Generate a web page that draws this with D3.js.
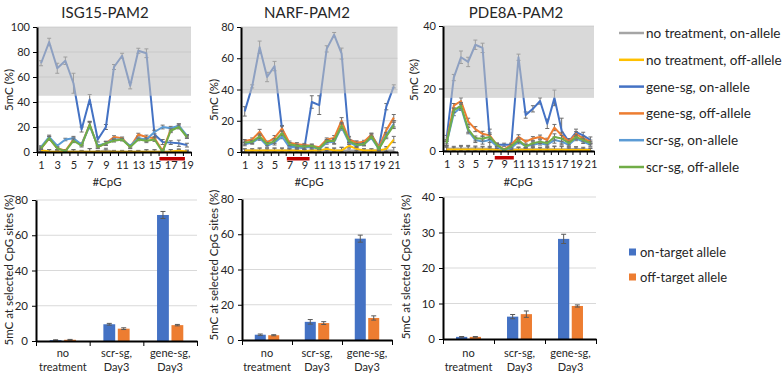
<!DOCTYPE html>
<html>
<head>
<meta charset="utf-8">
<script src="https://cdn.jsdelivr.net/npm/d3@7"></script>
<style>
body { margin: 0; background: #fff; }
text { font-family: Lato, "Open Sans", sans-serif; fill: #262626; }
</style>
</head>
<body>
<script>
// series shown in the CpG line charts
const seriesNames = ["no treatment, on-allele", "no treatment, off-allele", "gene-sg, on-allele",
    "gene-sg, off-allele", "scr-sg, on-allele", "scr-sg, off-allele"];
const seriesColors = ["#a5a5a5", "#ffc000", "#4472c4", "#ed7d31", "#5b9bd5", "#70ad47"];

// ISG15-PAM2, 19 CpGs
const isgNoOn = [0.5, 0.3, 0.3, 0.3, 0.5, 0.3, 0.3, 0.3, 1.5, 0.3, 0.3, 0.3, 0.3, 0.3, 0.3, 0.3, 0.3, 0.5, 0.3];
const isgNoOff = [1.5, 0.5, 0.3, 0.2, 0.2, 0.2, 0.2, 0.2, 0.2, 0.2, 0.2, 0.2, 0.2, 0.2, 0.2, 0.2, 0.5, 1, 0.5];
const isgGeneOn = [71, 88, 67, 73, 55, 18, 42, 10, 20, 68, 77, 53, 81, 79, 14, 8, 7.5, 7, 5.5];
const isgGeneOff = [3, 11, 3, 1, 10, 6, 22, 4, 7, 12, 11, 4, 14, 12, 11, 1, 18, 21, 12];
const isgScrOn = [4, 12, 5, 10, 11, 6, 21, 5, 7, 10, 10, 5, 11, 10, 16, 20, 19, 21, 13];
const isgScrOff = [3, 11, 3, 0.5, 9, 5, 22, 4, 7, 9, 10, 4, 10, 9, 10, 0, 17, 20, 12];
const isgErrOn = [2, 3, 4, 3, 8, 2, 4, 2, 2, 2, 2, 2.5, 2, 3.5, 3, 2, 1.5, 2.5, 1.5];
const isgErrOther = [1, 1.5, 1, 1, 1.5, 1, 2.5, 1, 1.5, 1, 1, 1, 1, 1.5, 1.5, 1.5, 1.5, 1.5, 1];

// NARF-PAM2, 21 CpGs
const narfNoOn = [1, 1, 1, 1, 1, 1, 1, 1, 0.5, 1, 1, 1, 1, 1, 1, 1, 1, 1, 1, 1, 1];
const narfNoOff = [1, 1, 1, 1, 1, 1, 1, 1, 0.5, 1, 1, 2, 1, 1, 4, 2, 1, 1, 1, 2, 8];
const narfGeneOn = [26, 42, 67, 48, 55, 15, 4, 3, 2.5, 32, 30, 66, 75, 63, 8, 6, 5.5, 11, 3, 29, 42];
const narfGeneOff = [7, 8, 13, 6, 9, 15, 6, 5, 4.5, 4, 3, 8, 9, 20, 8, 6, 6.5, 11, 3, 14, 22];
const narfScrOn = [5, 6, 9, 4, 6, 10, 3, 3, 3, 3, 2, 6, 6.5, 16, 6, 4, 5, 9, 2, 11, 18];
const narfScrOff = [6, 6.5, 10, 5, 7, 12, 5, 4, 3.5, 4, 2, 7, 7, 17, 7, 4.5, 5, 10, 2, 10, 17];
const narfErrOn = [3, 1, 4, 3, 3, 2, 1, 1, 1, 4, 6, 2, 1.5, 3.5, 2, 1, 1, 1, 1, 2, 1];
const narfErrOther = [1, 1, 1.5, 1, 1.5, 1.5, 1, 1, 1, 1, 0.5, 1, 1.5, 2, 1, 1, 1, 1, 1, 1.5, 2];

// PDE8A-PAM2, 21 CpGs
const pdeNoOn = [0.7, 0.8, 0.8, 0.8, 0.8, 0.7, 0.7, 0.5, 0.3, 0.5, 0.6, 0.6, 0.6, 0.6, 0.6, 0.6, 0.6, 0.6, 0.7, 0.6, 0.5];
const pdeNoOff = [0.5, 0.5, 0.5, 0.5, 0.5, 0.5, 0.5, 0.3, 0.2, 0.3, 0.4, 0.4, 0.4, 0.4, 0.4, 0.4, 0.4, 0.3, 0.3, 0.3, 0.3];
const pdeGeneOn = [4, 23.5, 30, 28.5, 34, 33, 4, 2, 2, 2, 30, 11.5, 13.5, 16, 8.7, 17, 6.5, 3, 6, 5, 3.5];
const pdeGeneOff = [3, 14.5, 16, 9.5, 7, 5.5, 5, 2, 0.5, 2, 4.5, 3, 4, 4.5, 3.5, 7.5, 5, 3, 5.5, 4, 3];
const pdeScrOn = [2.5, 12, 14, 6.5, 3.5, 3, 3.5, 1.5, 0.3, 1, 3, 1.5, 2, 2.5, 2, 3.5, 3, 2, 4, 3, 2];
const pdeScrOff = [2.5, 13, 14.5, 7, 4, 4, 4.5, 2, 0.3, 1.5, 3.5, 1.5, 2.5, 3, 2.5, 4.5, 4, 2.5, 4.5, 3.5, 2.5];
const pdeErrOn = [1, 1, 2, 1.5, 1.5, 1.5, 3, 0.5, 0.5, 0.5, 1, 1, 1, 1, 1.5, 2.5, 4, 1, 1, 1, 1];
const pdeErrOther = [0.7, 0.7, 1, 1, 0.8, 0.8, 0.8, 0.5, 0.3, 0.5, 0.7, 0.5, 0.6, 0.6, 0.6, 1, 1, 0.6, 0.7, 0.6, 0.5];

// bar charts: mean 5mC at selected CpG sites
const groups = [["no", "treatment"], ["scr-sg,", "Day3"], ["gene-sg,", "Day3"]];
const alleleNames = ["on-target allele", "off-target allele"];
const alleleColors = ["#4472c4", "#ed7d31"];
const isgBarOn = [0.5, 9.5, 71.5];
const isgBarOff = [0.7, 7.0, 9.0];
const isgBarOnErr = [0.2, 0.5, 2];
const isgBarOffErr = [0.2, 0.5, 0.4];
const narfBarOn = [3.0, 10.3, 57.5];
const narfBarOff = [2.7, 9.6, 12.5];
const narfBarOnErr = [0.4, 1.3, 2];
const narfBarOffErr = [0.3, 0.8, 1.2];
const pdeBarOn = [0.6, 6.3, 28.2];
const pdeBarOff = [0.6, 7.0, 9.3];
const pdeBarOnErr = [0.1, 0.6, 1.3];
const pdeBarOffErr = [0.1, 0.9, 0.3];

const svg = d3.select('body').append('svg')
    .attr('width', 784)
    .attr('height', 374);

function styleAxis(g) {
    g.select('.domain').attr('stroke', '#000').attr('stroke-width', 2);
    g.selectAll('.tick line').attr('stroke', '#000');
    g.selectAll('.tick text').attr('font-family', 'Lato, sans-serif').attr('fill', '#262626');
}

function linePanel(p) {
    const n = p.series[0].length;
    const cats = d3.range(1, n + 1);
    const x = d3.scaleBand().domain(cats).range([p.x0, p.x1]);
    const xl = d3.scaleLinear().domain([0.5, n + 0.5]).range([p.x0, p.x1]);
    const y = d3.scaleLinear().domain([0, p.max]).range([p.y0, p.y1]);
    const g = svg.append('g');

    g.selectAll('.grid').data(p.ticks.slice(1)).enter().append('line')
        .attr('x1', p.x0).attr('x2', p.x1)
        .attr('y1', d => y(d)).attr('y2', d => y(d))
        .attr('stroke', '#d9d9d9').attr('stroke-width', 1);

    const cx = i => x(cats[i]) + x.bandwidth() / 2;
    const line = d3.line().x((d, i) => cx(i)).y(d => y(d));

    p.series.forEach(function (s, k) {
        const err = k == 2 ? p.errOn : p.errOther;
        g.append('g').selectAll('path').data(s).enter().append('path')
            .attr('d', function (d, i) {
                const a = y(d + err[i]), b = y(Math.max(0, d - err[i])), c = cx(i);
                return 'M' + (c - 2) + ',' + a + 'H' + (c + 2) + 'M' + c + ',' + a + 'V' + b +
                    'M' + (c - 2) + ',' + b + 'H' + (c + 2);
            })
            .attr('stroke', '#6e6e6e').attr('stroke-width', 1).attr('fill', 'none');
        g.append('path').datum(s)
            .attr('d', line)
            .attr('fill', 'none')
            .attr('stroke', seriesColors[k])
            .attr('stroke-width', 2)
            .attr('stroke-linejoin', 'round');
    });

    // shaded band above the threshold
    g.append('rect')
        .attr('x', p.x0).attr('width', p.x1 - p.x0)
        .attr('y', y(p.max)).attr('height', y(p.band) - y(p.max))
        .attr('fill', '#bfbfbf').attr('opacity', 0.6);

    const ya = g.append('g')
        .attr('transform', 'translate(' + p.x0 + ',0)')
        .call(d3.axisLeft(y).tickValues(p.ticks).tickSize(4).tickSizeOuter(0).tickPadding(3))
        .attr('font-size', 11);
    styleAxis(ya);

    const xa = g.append('g')
        .attr('transform', 'translate(0,' + p.y0 + ')')
        .call(d3.axisBottom(xl).tickValues(d3.range(0.5, n + 1, 1)).tickFormat('').tickSize(4).tickSizeOuter(0));
    styleAxis(xa);

    const xt = g.append('g')
        .attr('transform', 'translate(0,' + p.y0 + ')')
        .call(d3.axisBottom(xl).tickValues(cats.filter(c => c % 2 == 1)).tickSize(0).tickPadding(9))
        .attr('font-size', 11);
    xt.select('.domain').remove();
    styleAxis(xt);

    g.append('rect')
        .attr('x', xl(p.red[0])).attr('width', xl(p.red[1]) - xl(p.red[0]))
        .attr('y', p.y0 + 5).attr('height', 3.5)
        .attr('fill', '#c00000');

    g.append('text').attr('x', p.titleX).attr('y', 18)
        .attr('text-anchor', 'middle').attr('font-size', 15).text(p.title);
    g.append('text').attr('x', p.titleX + 2).attr('y', 186)
        .attr('text-anchor', 'middle').attr('font-size', 11.5).text('#CpG');
    g.append('text')
        .attr('transform', 'translate(' + p.labX + ',' + p.labY + ') rotate(-90)')
        .attr('text-anchor', 'middle').attr('dominant-baseline', 'central')
        .attr('font-size', 11.5).text('5mC (%)');
}

function barPanel(p) {
    const x = d3.scaleBand().domain(d3.range(groups.length)).range([p.x0, p.x1]);
    const xi = d3.scaleBand().domain([0, 1]).range([0, x.bandwidth()])
        .paddingInner(0.18).paddingOuter(0.95);
    const xl = d3.scaleLinear().domain([0, groups.length]).range([p.x0, p.x1]);
    const y = d3.scaleLinear().domain([0, p.max]).range([p.y0, p.y1]);
    const g = svg.append('g');

    g.selectAll('.grid').data(p.ticks.slice(1)).enter().append('line')
        .attr('x1', p.x0).attr('x2', p.x1)
        .attr('y1', d => y(d)).attr('y2', d => y(d))
        .attr('stroke', '#d9d9d9').attr('stroke-width', 1);

    [p.on, p.off].forEach(function (vals, k) {
        const err = k == 0 ? p.onErr : p.offErr;
        g.append('g').selectAll('rect').data(vals).enter().append('rect')
            .attr('x', (d, i) => x(i) + xi(k))
            .attr('width', xi.bandwidth())
            .attr('y', d => y(d))
            .attr('height', d => p.y0 - y(d))
            .attr('fill', alleleColors[k]);
        g.append('g').selectAll('path').data(vals).enter().append('path')
            .attr('d', function (d, i) {
                const c = x(i) + xi(k) + xi.bandwidth() / 2, a = y(d + err[i]), b = y(d - err[i]);
                return 'M' + (c - 2.5) + ',' + a + 'H' + (c + 2.5) + 'M' + c + ',' + a + 'V' + b +
                    'M' + (c - 2.5) + ',' + b + 'H' + (c + 2.5);
            })
            .attr('stroke', '#595959').attr('stroke-width', 1).attr('fill', 'none');
    });

    const ya = g.append('g')
        .attr('transform', 'translate(' + p.x0 + ',0)')
        .call(d3.axisLeft(y).tickValues(p.ticks).tickSize(4).tickSizeOuter(0).tickPadding(4))
        .attr('font-size', 11.5);
    styleAxis(ya);

    const xa = g.append('g')
        .attr('transform', 'translate(0,' + p.y0 + ')')
        .call(d3.axisBottom(xl).tickValues(d3.range(0, groups.length + 1)).tickFormat('').tickSize(5).tickSizeOuter(0));
    styleAxis(xa);

    const lab = g.append('g').selectAll('text').data(groups).enter().append('text')
        .attr('text-anchor', 'middle').attr('font-size', 11);
    lab.append('tspan').attr('x', (d, i) => x(i) + x.bandwidth() / 2).attr('y', 357).text(d => d[0]);
    lab.append('tspan').attr('x', (d, i) => x(i) + x.bandwidth() / 2).attr('y', 371).text(d => d[1]);

    g.append('text')
        .attr('transform', 'translate(' + p.labX + ',' + p.labY + ') rotate(-90)')
        .attr('text-anchor', 'middle').attr('dominant-baseline', 'central')
        .attr('font-size', 11.5).text(p.ylabel);
}

linePanel({title: 'ISG15-PAM2', series: [isgNoOn, isgNoOff, isgGeneOn, isgGeneOff, isgScrOn, isgScrOff],
    errOn: isgErrOn, errOther: isgErrOther, max: 100, band: 45, ticks: [0, 20, 40, 60, 80, 100],
    red: [15.6, 18.75], x0: 37, x1: 191, y0: 152, y1: 27, titleX: 105, labX: 8, labY: 90});
linePanel({title: 'NARF-PAM2', series: [narfNoOn, narfNoOff, narfGeneOn, narfGeneOff, narfScrOn, narfScrOff],
    errOn: narfErrOn, errOther: narfErrOther, max: 80, band: 37.5, ticks: [0, 20, 40, 60, 80],
    red: [6.65, 9.7], x0: 241, x1: 397.5, y0: 152, y1: 27, titleX: 307, labX: 213, labY: 100});
linePanel({title: 'PDE8A-PAM2', series: [pdeNoOn, pdeNoOff, pdeGeneOn, pdeGeneOff, pdeScrOn, pdeScrOff],
    errOn: pdeErrOn, errOther: pdeErrOther, max: 40, band: 17, ticks: [0, 20, 40],
    red: [7.7, 10.35], x0: 443, x1: 594, y0: 151, y1: 26, titleX: 516, labX: 413, labY: 80});

barPanel({on: isgBarOn, off: isgBarOff, onErr: isgBarOnErr, offErr: isgBarOffErr, max: 80,
    ticks: [0, 20, 40, 60, 80], x0: 36, x1: 197, y0: 341, y1: 200, labX: 8, labY: 270,
    ylabel: '5mC at selected CpG sites (%)'});
barPanel({on: narfBarOn, off: narfBarOff, onErr: narfBarOnErr, offErr: narfBarOffErr, max: 80,
    ticks: [0, 20, 40, 60, 80], x0: 242, x1: 392, y0: 340, y1: 199, labX: 213, labY: 265,
    ylabel: '5mC at selected CpG sites (%)'});
barPanel({on: pdeBarOn, off: pdeBarOff, onErr: pdeBarOnErr, offErr: pdeBarOffErr, max: 40,
    ticks: [0, 10, 20, 30, 40], x0: 443, x1: 596, y0: 339, y1: 197, labX: 405, labY: 267,
    ylabel: '5mC at slected CpG sites (%)'});

// legends
const leg = svg.append('g').selectAll('g').data(seriesNames).enter().append('g')
    .attr('transform', (d, i) => 'translate(619,' + (33 + i * 26.8) + ')');
leg.append('line').attr('x1', 0).attr('x2', 25).attr('stroke', (d, i) => seriesColors[i]).attr('stroke-width', 2.5);
leg.append('text').attr('x', 27).attr('dominant-baseline', 'central').attr('font-size', 13.5).text(d => d);

const leg2 = svg.append('g').selectAll('g').data(alleleNames).enter().append('g')
    .attr('transform', (d, i) => 'translate(629,' + (252 + i * 25) + ')');
leg2.append('rect').attr('x', 0).attr('y', -3.5).attr('width', 7).attr('height', 7).attr('fill', (d, i) => alleleColors[i]);
leg2.append('text').attr('x', 11).attr('dominant-baseline', 'central').attr('font-size', 13).text(d => d);
</script>
</body>
</html>
